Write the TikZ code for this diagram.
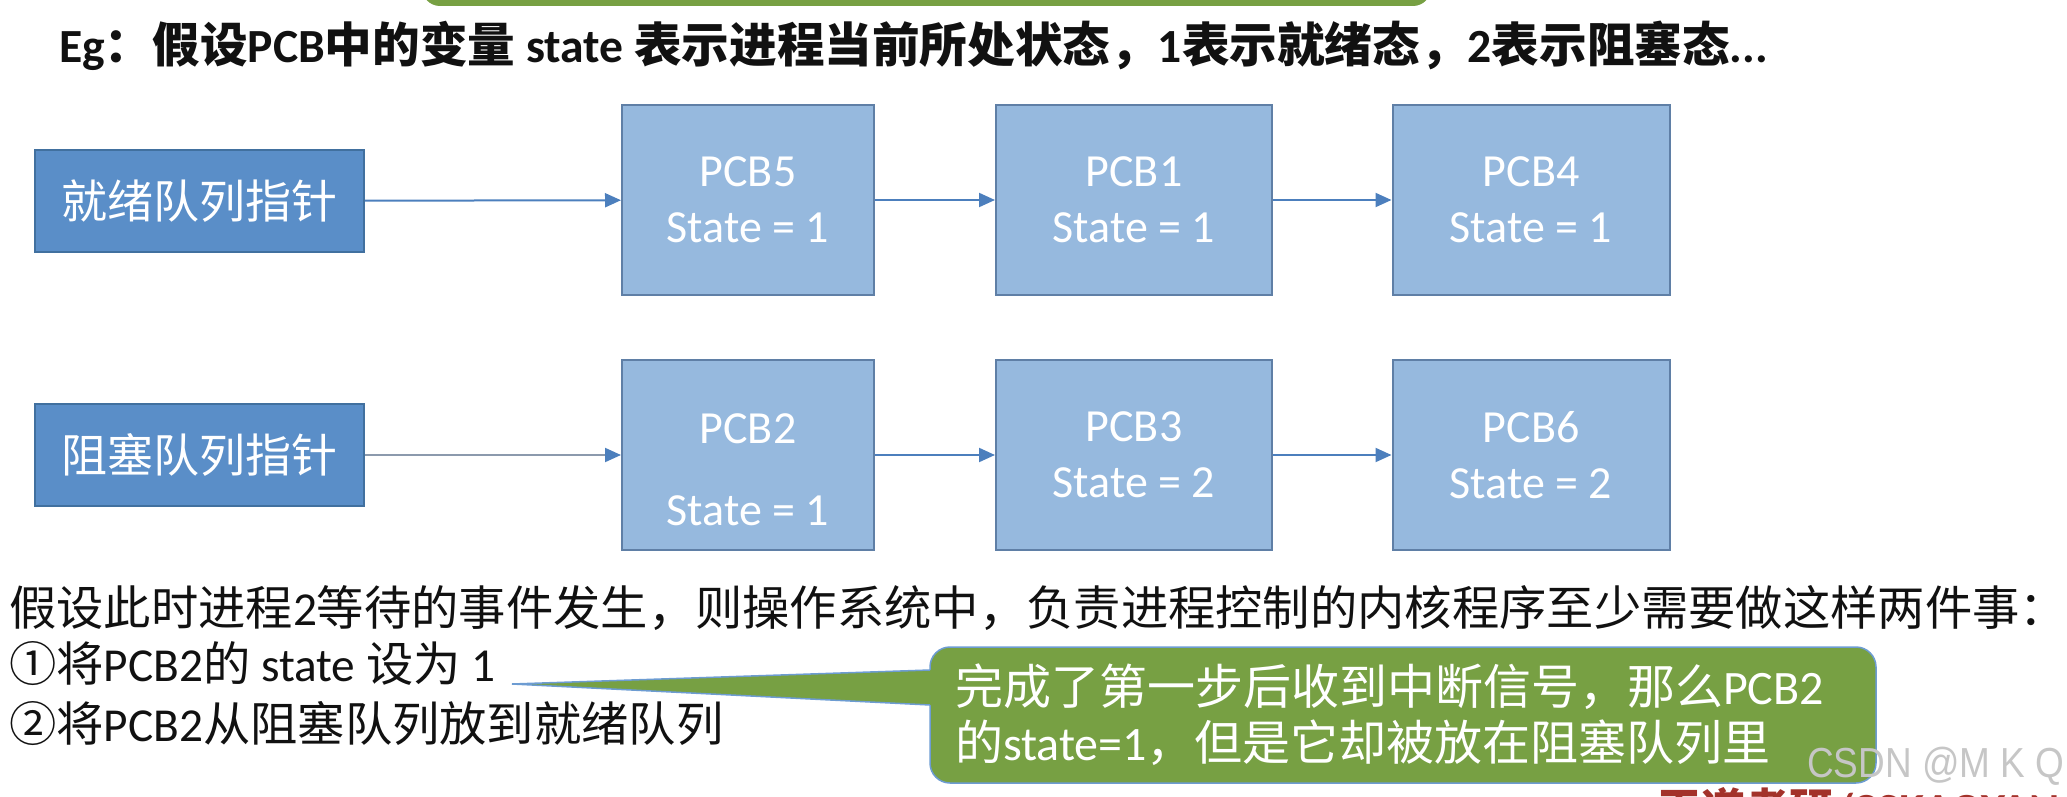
\documentclass[tikz,border=0pt]{standalone}
\usepackage{fontspec}
\setmainfont{Carlito}
\newfontfamily\cjk{Noto Sans CJK SC}
\newfontfamily\wmfont{Liberation Sans}
\usetikzlibrary{arrows.meta,calc}
\definecolor{ptrfill}{HTML}{5A8EC8}
\definecolor{ptrline}{HTML}{41709F}
\definecolor{pcbfill}{HTML}{96B9DE}
\definecolor{pcbline}{HTML}{5F7FA6}
\definecolor{arrblue}{HTML}{4C7FBD}
\definecolor{arrgray}{HTML}{8C9AAD}
\definecolor{calgreen}{HTML}{77A043}
\definecolor{caledge}{HTML}{6D9CD2}
\definecolor{wmgray}{HTML}{C6C6C6}
\definecolor{kaored}{HTML}{A3322A}
\definecolor{txt}{HTML}{111111}
\begin{document}
\begin{tikzpicture}[x=1pt,y=-1pt,
  ptrbox/.style={draw=ptrline, line width=2pt, fill=ptrfill, minimum width=329pt,
    minimum height=102pt, inner sep=0pt, text=white, font=\cjk\fontsize{46}{55}\selectfont},
  pcbbox/.style={draw=pcbline, line width=2pt, fill=pcbfill, minimum height=190pt,
    inner sep=0pt, text=white, align=center, font=\fontsize{46}{56}\selectfont},
  pcbtext/.style={inner sep=0pt, text=white, font=\fontsize{46}{56}\selectfont},
  arr/.style={draw=arrblue, line width=2pt, -{Triangle[length=16pt,width=14pt]}},
  arrb/.style={draw=arrgray, line width=2pt, -{Triangle[length=16pt,width=14pt,color=arrblue]}},
  plaintext/.style={anchor=base west, inner sep=0pt, text=txt},
  callout/.style={fill=calgreen, draw=caledge, line width=1.5pt, rounded corners=20pt,
    minimum width=946pt, minimum height=136pt, text width=896pt, inner xsep=25pt,
    align=left, text=white, font=\fontsize{48}{56}\selectfont},
  caltail/.style={draw=caledge, line width=1.5pt}
]
\useasboundingbox (0,0) rectangle (2067,797);

% green note at the top edge
\node[fill=calgreen, rounded corners=18pt, minimum width=1009pt, minimum height=60pt,
  inner sep=0pt] (topnote) at (926.5,-24) {};

% title
\node[plaintext, font=\bfseries\fontsize{47.6}{56}\selectfont] (title) at (59,63)
  {Eg{\cjk ：假设}PCB{\cjk 中的变量} state {\cjk 表示进程当前所处状态，}1{\cjk 表示就绪态，}2{\cjk 表示阻塞态}...};

% ready queue
\node[ptrbox] (ready) at (199.5,201) {就绪队列指针};
\node[pcbbox, minimum width=252pt] (pcb5) at (748,200) {PCB5\\State = 1};
\node[pcbbox, minimum width=276pt] (pcb1) at (1134,200) {PCB1\\State = 1};
\node[pcbbox, minimum width=277pt] (pcb4) at (1531,200) {PCB4\\State = 1};
\draw[arr] (ready) -- (pcb5);
\draw[arr] (pcb5) -- (pcb1);
\draw[arr] (pcb1) -- (pcb4);

% blocked queue
\node[ptrbox] (blocked) at (199.5,455) {阻塞队列指针};
\node[pcbbox, minimum width=252pt] (pcb2) at (748,455) {};
\node[pcbtext] (pcb2a) at (748,429) {PCB2};
\node[pcbtext] (pcb2b) at (748,511) {State = 1};
\node[pcbbox, minimum width=276pt] (pcb3) at (1134,455) {PCB3\\State = 2};
\node[pcbbox, minimum width=277pt] (pcb6) at (1531,455) {PCB6\\State = 2};
\draw[arrb] (blocked) -- (pcb2);
\draw[arr] (pcb2) -- (pcb3);
\draw[arr] (pcb3) -- (pcb6);

% explanation text
\node[plaintext, font=\fontsize{47.3}{56}\selectfont] (line1) at (9,625)
  {{\cjk 假设此时进程}2{\cjk 等待的事件发生，则操作系统中，负责进程控制的内核程序至少需要做这样两件事：}};
\node[plaintext, font=\fontsize{47.3}{56}\selectfont] (line2) at (9,681)
  {{\cjk ①将}PCB2{\cjk 的} state {\cjk 设为} 1};
\node[plaintext, font=\fontsize{47.3}{56}\selectfont] (line3) at (9,741)
  {{\cjk ②将}PCB2{\cjk 从阻塞队列放到就绪队列}};

% callout
\node[callout] (co) at (1403,715)
  {{\cjk 完成了第一步后收到中断信号，那么}PCB2\\{\cjk 的}state=1{\cjk ，但是它却被放在阻塞队列里}};
\coordinate (tip) at (512,684);
\coordinate (tu) at (930,670);
\coordinate (tl) at (930,705);
\fill[calgreen] (tip) -- (944,669.5) -- (944,705.7) -- cycle;
\draw[caltail] (tip) -- (tu);
\draw[caltail] (tip) -- (tl);

% bottom right marks
\node[anchor=base west, inner sep=0pt, text=kaored, font=\bfseries\fontsize{46}{52}\selectfont]
  (kao) at (1657,825) {{\cjk\fontsize{44}{50}\selectfont 王道考研}/CSKAOYAN};
\node[anchor=base west, inner sep=0pt, text=wmgray, font=\wmfont\fontsize{42}{48}\selectfont,
  xscale=0.88] (wm) at (1807,777) {CSDN @M K Q};
\end{tikzpicture}
\end{document}
